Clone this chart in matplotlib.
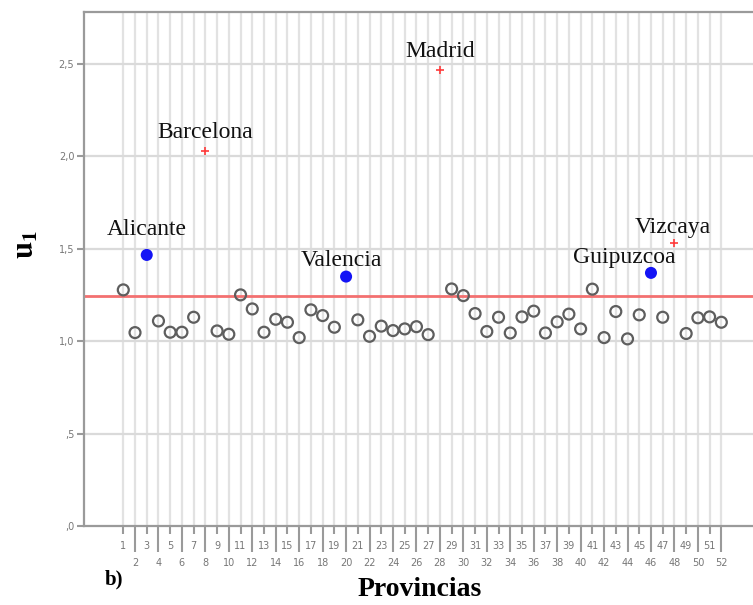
import matplotlib.pyplot as plt

plt.rcParams['mathtext.fontset'] = 'stix'

# u1 per province (1..52)
provincias = list(range(1, 53))
u1 = [
    1.277, 1.046, 1.466, 1.109, 1.048, 1.048, 1.129, 2.030, 1.055, 1.037,
    1.250, 1.174, 1.048, 1.118, 1.102, 1.019, 1.169, 1.138, 1.075, 1.349,
    1.115, 1.026, 1.081, 1.057, 1.066, 1.078, 1.035, 2.468, 1.282, 1.246,
    1.149, 1.052, 1.129, 1.044, 1.131, 1.162, 1.044, 1.104, 1.146, 1.066,
    1.281, 1.019, 1.160, 1.012, 1.142, 1.369, 1.129, 1.531, 1.041, 1.126,
    1.131, 1.102,
]
umbral = 1.245

# highlighted provinces: number -> (name, kind)
destacadas = {
    3: ('Alicante', 'azul'),
    8: ('Barcelona', 'rojo'),
    20: ('Valencia', 'azul'),
    28: ('Madrid', 'rojo'),
    46: ('Guipuzcoa', 'azul'),
    48: ('Vizcaya', 'rojo'),
}
# label offsets in pixels from the point
offsets = {3: (0, 20), 8: (0, 13), 20: (-5, 11), 28: (0, 13), 46: (-27, 10), 48: (-2, 10)}

fig = plt.figure(figsize=(7.53, 6.05), dpi=100)
ax = fig.add_axes([84 / 753, 1 - 526 / 605, 1 - 84 / 753, 514 / 605])
ax.set_xlim(-2.35, 54.7)
ax.set_ylim(0, 2.78)

grey = '#9a9a9a'
for p in provincias:
    ax.axvline(p, color='#e2e2e2', lw=1.6, zorder=0)
for y in [0.5, 1.0, 1.5, 2.0, 2.5]:
    ax.axhline(y, color='#dadada', lw=1.6, zorder=0)

ax.axhline(umbral, color='#f37070', lw=2, zorder=1)

norm_x = [p for p in provincias if p not in destacadas]
norm_y = [u1[p - 1] for p in norm_x]
ax.scatter(norm_x, norm_y, s=62, facecolor='none', edgecolor='#5e5e5e', linewidths=1.6, zorder=3)

for p, (nombre, tipo) in destacadas.items():
    v = u1[p - 1]
    if tipo == 'azul':
        ax.scatter([p], [v], s=75, color='#1414f5', edgecolor='none', zorder=4)
    else:
        ax.scatter([p], [v], s=30, marker='+', color='#ff3a3a', linewidths=1.2, zorder=4)
    ax.annotate(nombre, (p, v), xytext=offsets[p], textcoords='offset pixels',
                ha='center', va='baseline', fontsize=17,
                family='Liberation Serif', color='#111111', zorder=5)

for s in ['left', 'bottom', 'top']:
    ax.spines[s].set_color(grey)
    ax.spines[s].set_linewidth(1.6)
ax.spines['right'].set_visible(False)

ax.set_yticks([0, 0.5, 1.0, 1.5, 2.0, 2.5])
ax.set_yticklabels([',0', ',5', '1,0', '1,5', '2,0', '2,5'])
ax.tick_params(axis='y', length=5, width=1.5, color=grey, labelsize=7, labelcolor='#777777', pad=2)

odd = [p for p in provincias if p % 2 == 1]
even = [p for p in provincias if p % 2 == 0]
ax.set_xticks(odd)
ax.set_xticklabels([str(p) for p in odd])
ax.set_xticks(even, minor=True)
ax.set_xticklabels([str(p) for p in even], minor=True)
ax.tick_params(axis='x', which='major', length=6, width=1.5, color=grey,
               labelsize=7, labelcolor='#777777', pad=5)
ax.tick_params(axis='x', which='minor', length=19, width=1.5, color=grey,
               labelsize=7, labelcolor='#777777', pad=4)

fig.text(420 / 753, 1 - 590 / 605, 'Provincias', ha='center', va='center',
         fontsize=20, fontweight='bold', family='Liberation Serif')
fig.text(114 / 753, 1 - 579 / 605, 'b)', ha='center', va='center',
         fontsize=15, fontweight='bold', family='Liberation Serif')
fig.text(25 / 753, 1 - 245 / 605, r'$\mathbf{u}_{\mathbf{1}}$', ha='center', va='center',
         rotation=90, fontsize=22)

fig.savefig('out.png', dpi=100)
